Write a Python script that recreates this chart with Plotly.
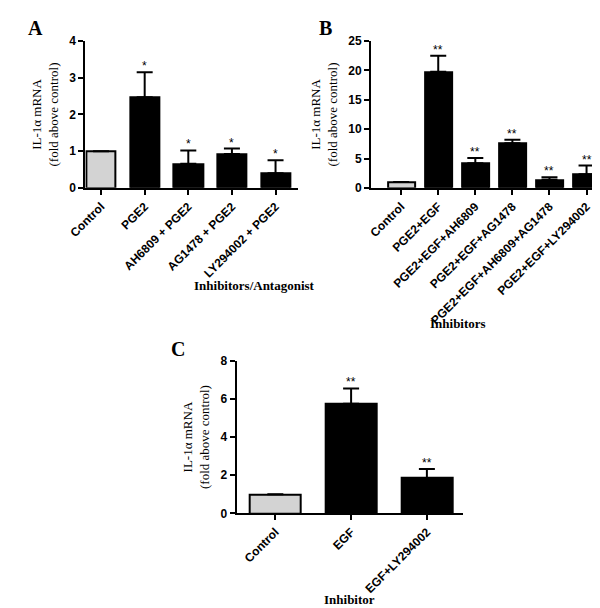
import plotly.graph_objects as go

a_cats = ["Control", "PGE2", "AH6809 + PGE2", "AG1478 + PGE2", "LY294002 + PGE2"]
a_vals = [1.0, 2.47, 0.66, 0.92, 0.40]
a_err = [0.0, 0.68, 0.36, 0.15, 0.35]
a_sig = ["", "*", "*", "*", "*"]

b_cats = ["Control", "PGE2+EGF", "PGE2+EGF+AH6809", "PGE2+EGF+AG1478", "PGE2+EGF+AH6809+AG1478", "PGE2+EGF+LY294002"]
b_vals = [1.0, 19.8, 4.2, 7.6, 1.4, 2.3]
b_err = [0.0, 2.7, 0.9, 0.6, 0.4, 1.5]
b_sig = ["", "**", "**", "**", "**", "**"]

c_cats = ["Control", "EGF", "EGF+LY294002"]
c_vals = [1.0, 5.75, 1.85]
c_err = [0.0, 0.8, 0.47]
c_sig = ["", "**", "**"]

fig = go.Figure()
tickfont = dict(family="Liberation Sans", size=12, color="black")
titlefont = dict(family="Liberation Serif", size=13, color="black")

panels = [
    ("x", "y", a_cats, a_vals, a_err, a_sig, [0.102, 0.467], [0.709, 0.956], [-0.36, 4.51], [0, 4], 1, 0.67, "Inhibitors/Antagonist", 0.165),
    ("x2", "y2", b_cats, b_vals, b_err, b_sig, [0.593, 0.995], [0.709, 0.956], [-0.81, 5.5], [0, 25], 5, 0.73, "Inhibitors", 0.229),
    ("x3", "y3", c_cats, c_vals, c_err, c_sig, [0.362, 0.75], [0.161, 0.418], [-0.51, 2.47], [0, 8], 2, 0.67, "Inhibitor", 0.145),
]
layout = {}
for i, (xa, ya, cats, vals, err, sig, xd, yd, xr, yr, dt, bw, xt, titpad) in enumerate(panels):
    xs = list(range(len(cats)))
    fig.add_trace(go.Bar(
        x=xs, y=vals, width=bw, xaxis=xa, yaxis=ya,
        marker=dict(color=["#d3d3d3"] + ["black"] * (len(cats) - 1), line=dict(color="black", width=2)),
        error_y=dict(type="data", array=err, arrayminus=[0] * len(err), symmetric=False,
                     color="black", thickness=2, width=8),
        showlegend=False))
    for x, v, e, s in zip(xs, vals, err, sig):
        if s:
            fig.add_annotation(x=x, y=v + e, xref=xa, yref=ya, text=s, showarrow=False,
                               yanchor="bottom", yshift=-3, font=dict(family="Liberation Sans", size=12, color="black"))
    n = "" if i == 0 else str(i + 1)
    tv = list(range(yr[0], yr[1] + 1, dt))
    layout["xaxis" + n] = dict(domain=xd, range=xr, anchor=ya, tickvals=xs,
                               ticktext=["<b>%s</b>" % c for c in cats], tickangle=-45,
                               showline=True, linecolor="black", linewidth=2, ticks="outside",
                               ticklen=5, tickwidth=1.5, tickcolor="black", tickfont=tickfont,
                               showgrid=False, zeroline=False, fixedrange=True)
    layout["yaxis" + n] = dict(domain=yd, range=yr, anchor=xa,
                               tickvals=tv, ticktext=["<b>%d</b>" % t for t in tv],
                               showline=True, linecolor="black", linewidth=2, ticks="outside",
                               ticklen=5, tickwidth=1.5, tickcolor="black", tickfont=tickfont,
                               showgrid=False, zeroline=False,
                               title=dict(text="IL-1α mRNA<br>(fold above control)", font=titlefont, standoff=8))
    fig.add_annotation(x=(xd[0] + xd[1]) / 2, y=yd[0] - titpad, xref="paper", yref="paper",
                       text="<b>%s</b>" % xt, showarrow=False, yanchor="middle",
                       font=dict(family="Liberation Serif", size=13, color="black"))

for letter, lx, ly in [("A", 0.0, 1.0), ("B", 0.5, 1.0), ("C", 0.245, 0.46)]:
    fig.add_annotation(x=lx, y=ly, xref="paper", yref="paper", text="<b>%s</b>" % letter, showarrow=False,
                       xanchor="left", yanchor="top", font=dict(family="Liberation Serif", size=20, color="black"))

fig.update_layout(**layout, width=600, height=608, margin=dict(l=0, r=0, t=0, b=0),
                  plot_bgcolor="white", paper_bgcolor="white", bargap=0)
fig.write_html("out.html")
